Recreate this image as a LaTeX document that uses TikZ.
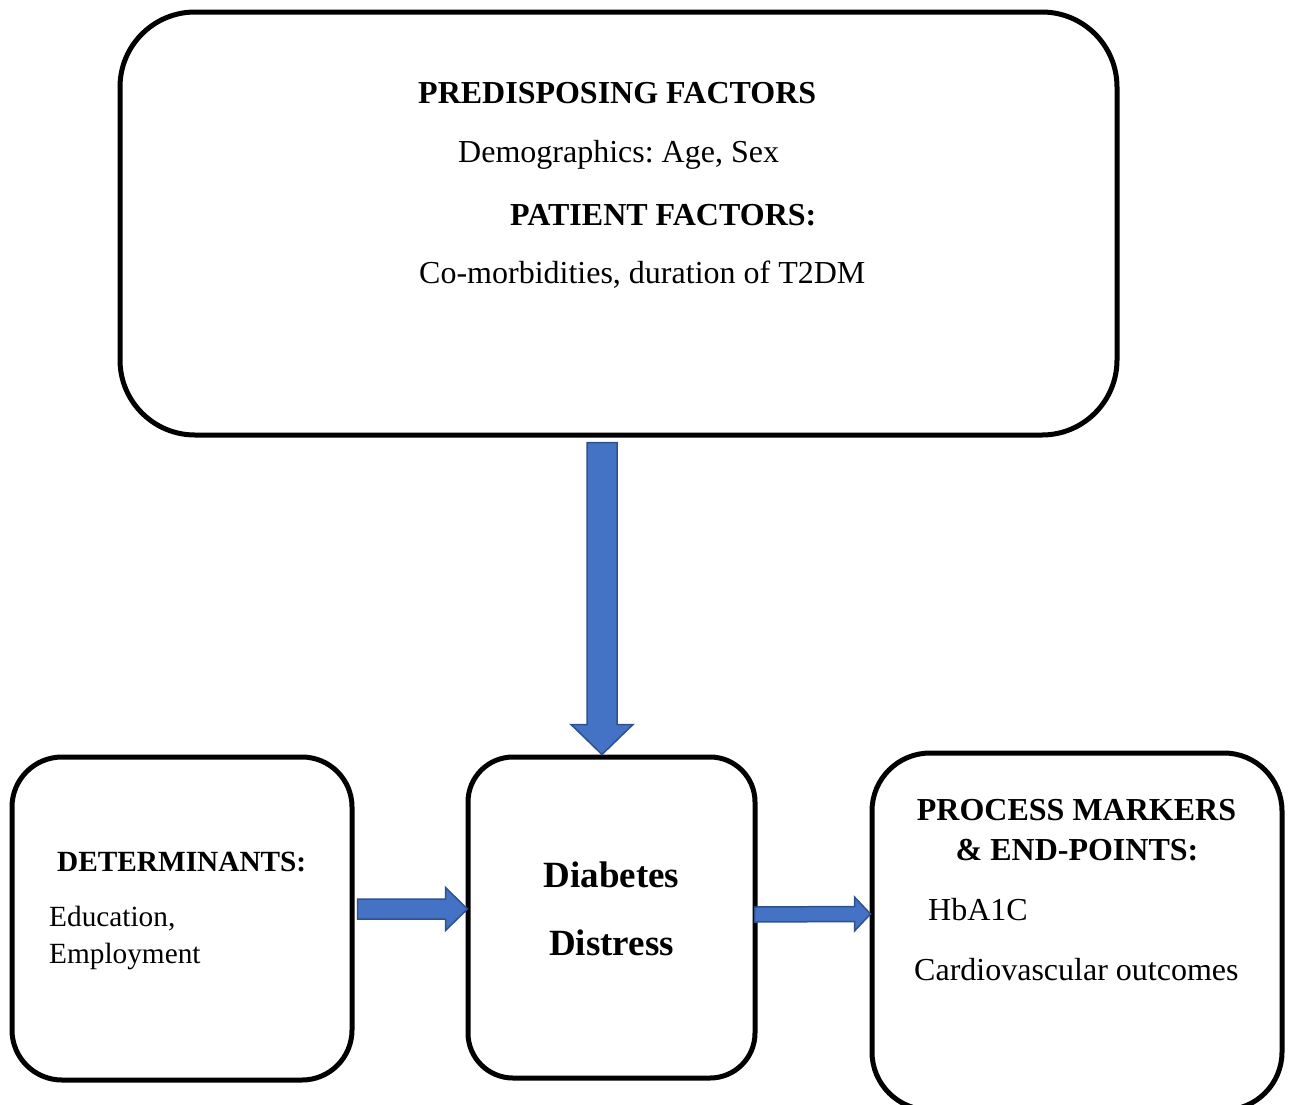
\documentclass[tikz,border=0pt]{standalone}
\usepackage{fontspec}
\setmainfont{Liberation Serif}
\usetikzlibrary{calc}
\definecolor{arrowfill}{HTML}{4472C4}
\definecolor{arrowline}{HTML}{2F528F}
\tikzset{
  box/.style={draw=black, line width=5pt, fill=white, inner sep=0pt},
  blockarrow/.style={fill=arrowfill, draw=arrowline, line width=1.5pt, line join=miter},
  hd/.style={font=\fontsize{32}{38}\selectfont\bfseries, inner sep=0pt},
  tx/.style={font=\fontsize{32}{38}\selectfont, inner sep=0pt},
  hds/.style={font=\fontsize{29.3}{35}\selectfont\bfseries, inner sep=0pt},
  txs/.style={font=\fontsize{29.3}{35}\selectfont, inner sep=0pt},
  big/.style={font=\fontsize{37}{44}\selectfont\bfseries, inner sep=0pt},
}
\frenchspacing
\begin{document}
\begin{tikzpicture}[x=1pt,y=-1pt]
\useasboundingbox[fill=white] (0,0) rectangle (1291,1104);
% boxes
\node[box, rounded corners=75pt, minimum width=997pt, minimum height=423pt] (pre) at (618.5,223.5) {};
\node[box, rounded corners=50pt, minimum width=340pt, minimum height=323pt] (det) at (182,918.5) {};
\node[box, rounded corners=45pt, minimum width=287pt, minimum height=321pt] (dd) at (611.5,917.5) {};
\node[box, rounded corners=58pt, minimum width=410pt, minimum height=357pt] (pm) at (1077,931.5) {};
% texts
\node[hd, anchor=base west] (t1) at (418,103) {PREDISPOSING FACTORS};
\node[tx, anchor=base west] (t2) at (458,162) {Demographics: Age, Sex};
\node[hd, anchor=base west] (t3) at (510,225) {PATIENT FACTORS:};
\node[tx, anchor=base west] (t4) at (419,283) {Co-morbidities, duration of T2DM};
\node[hds, anchor=base west] (t5) at (57,871) {DETERMINANTS:};
\node[txs, anchor=base west] (t6) at (49,926) {Education,};
\node[txs, anchor=base west] (t7) at (49,963) {Employment};
\node[big, anchor=base] (t8) at (611.5,887) {Diabetes};
\node[big, anchor=base] (t9) at (611.5,955) {Distress};
\node[hd, anchor=base] (t10) at (1076.5,820) {PROCESS MARKERS};
\node[hd, anchor=base] (t11) at (1077,860) {\& END-POINTS:};
\node[tx, anchor=base west] (t12) at (928,920) {HbA1C};
\node[tx, anchor=base west] (t13) at (914,980) {Cardiovascular outcomes};
% arrows
\coordinate (d1) at ($(pre.south)+(-16.5,5)$);
\coordinate (d2) at ($(dd.north)+(-9.5,0)$);
\draw[blockarrow] ($(d1)+(-15,0)$) -- ($(d2)+(-15,-30)$) -- ($(d2)+(-31,-30)$) -- (d2)
  -- ($(d2)+(31,-30)$) -- ($(d2)+(15,-30)$) -- ($(d1)+(15,0)$) -- cycle;
\coordinate (l1) at ($(det.east)+(3,-9.5)$);
\coordinate (l2) at ($(dd.west)+(2,-8.5)$);
\draw[blockarrow] ($(l1)+(0,-10)$) -- ($(l2)+(-22,-10)$) -- ($(l2)+(-22,-21.5)$) -- (l2)
  -- ($(l2)+(-22,21.5)$) -- ($(l2)+(-22,10)$) -- ($(l1)+(0,10)$) -- cycle;
\coordinate (r1) at ($(dd.east)+(-3,-3)$);
\coordinate (r2) at ($(pm.west)+(1,-17.5)$);
\draw[blockarrow] ($(r1)+(0,-7.5)$) -- ($(r2)+(-16,-7.5)$) -- ($(r2)+(-16,-17)$) -- (r2)
  -- ($(r2)+(-16,17)$) -- ($(r2)+(-16,7.5)$) -- ($(r1)+(0,7.5)$) -- cycle;
\end{tikzpicture}
\end{document}
